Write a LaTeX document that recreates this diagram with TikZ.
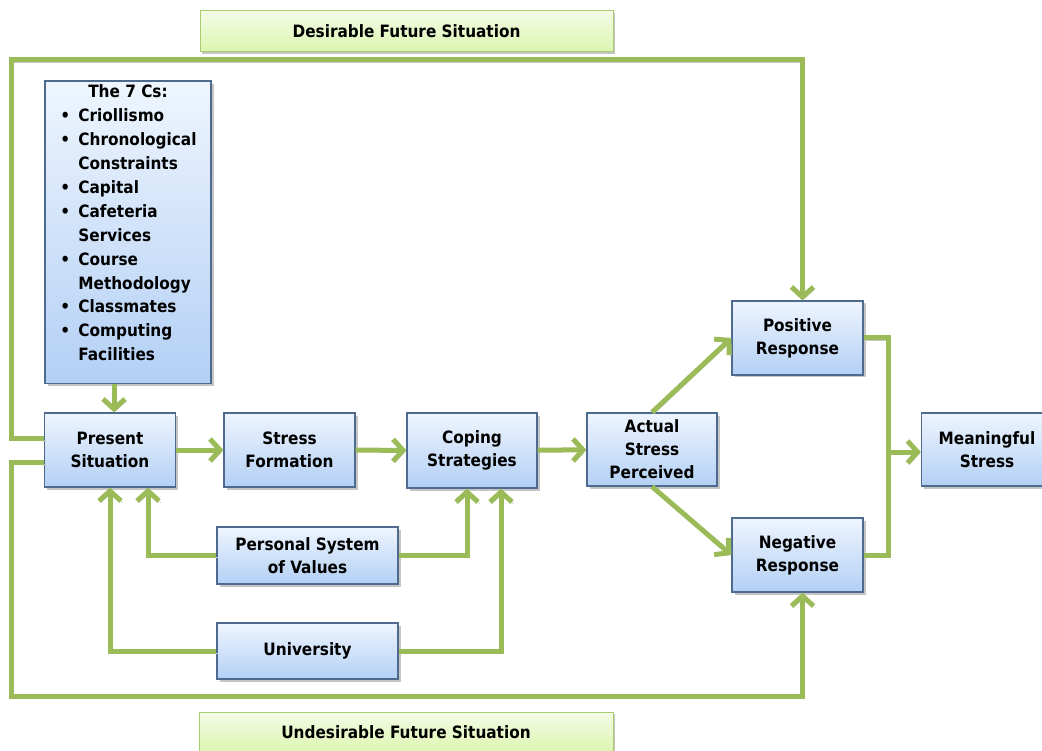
\documentclass[tikz,border=0pt]{standalone}
\usepackage{fontspec}
\setmainfont{DejaVu Sans Condensed}
\usetikzlibrary{arrows.meta,shadows}
\definecolor{lgreen}{HTML}{9BBB59}
\definecolor{boxtop}{HTML}{EEF5FE}
\definecolor{boxbot}{HTML}{B3D0F5}
\definecolor{boxdraw}{HTML}{4F6A8F}
\definecolor{gtop}{HTML}{F4FCE6}
\definecolor{gbot}{HTML}{DCF5B0}
\definecolor{gdraw}{HTML}{A9CC6E}
\begin{document}
\begin{tikzpicture}[x=1pt,y=-1pt,
  bluebox/.style={draw=boxdraw, line width=1.2pt, top color=boxtop, bottom color=boxbot,
    align=center, inner sep=0pt, font=\fontsize{17}{23}\selectfont\bfseries,
    drop shadow={shadow xshift=2.5pt, shadow yshift=-2.5pt, fill=black!45, opacity=.5}},
  greenbox/.style={draw=gdraw, line width=1pt, top color=gtop, bottom color=gbot,
    align=center, inner sep=0pt, font=\fontsize{17}{23}\selectfont\bfseries,
    drop shadow={shadow xshift=2pt, shadow yshift=-2pt, fill=black!45, opacity=.5}},
  conn/.style={draw=lgreen, line width=5pt,
    preaction={draw=black!22, transform canvas={shift={(1.8pt,-1.8pt)}}}},
  arr/.style={conn, -{Straight Barb[length=10pt,width=22pt]}}
]
\fill[white] (0,0) rectangle (1042,751);
\useasboundingbox (0,0) rectangle (1042,751);

% green boxes
\node[greenbox, minimum width=413pt, minimum height=41pt] (desirable) at (406.5,31.5) {Desirable Future Situation};
\node[greenbox, minimum width=414pt, minimum height=41pt] (undesirable) at (406,732.5) {Undesirable Future Situation};

% blue boxes
\node[bluebox, minimum width=166pt, minimum height=299pt, font=\fontsize{17}{23.9}\selectfont\bfseries] (sevenc) at (128,232.5)
 {\begin{tabular}{@{}l@{}l@{}}
  \multicolumn{2}{c}{The 7 Cs:}\\
  \makebox[19pt][l]{\hspace{1pt}•} & Criollismo\\
  \makebox[19pt][l]{\hspace{1pt}•} & Chronological\\
   & Constraints\\
  \makebox[19pt][l]{\hspace{1pt}•} & Capital\\
  \makebox[19pt][l]{\hspace{1pt}•} & Cafeteria\\
   & Services\\
  \makebox[19pt][l]{\hspace{1pt}•} & Course\\
   & Methodology\\
  \makebox[19pt][l]{\hspace{1pt}•} & Classmates\\
  \makebox[19pt][l]{\hspace{1pt}•} & Computing\\
   & Facilities\\[16pt]
  \end{tabular}};
\node[bluebox, minimum width=131pt, minimum height=74pt] (present) at (110,450) {Present\\Situation};
\node[bluebox, minimum width=131pt, minimum height=74pt] (stress) at (289.5,450) {Stress\\Formation};
\node[bluebox, minimum width=130pt, minimum height=75pt] (coping) at (472,450.5) {Coping\\Strategies};
\node[bluebox, minimum width=130pt, minimum height=73pt] (actual) at (652,449.5) {Actual\\Stress\\Perceived};
\node[bluebox, minimum width=131pt, minimum height=74pt] (positive) at (797.5,338) {Positive\\Response};
\node[bluebox, minimum width=131pt, minimum height=74pt] (negative) at (797.5,555) {Negative\\Response};
\node[bluebox, minimum width=131pt, minimum height=73pt] (meaningful) at (987,449.5) {Meaningful\\Stress};
\node[bluebox, minimum width=181pt, minimum height=57pt] (personal) at (307.5,555.5) {Personal System\\of Values};
\node[bluebox, minimum width=181pt, minimum height=56pt] (university) at (307.5,651) {University};

\coordinate (tl) at (11,60);
\coordinate (bl) at (11,696);
\coordinate (jx) at (888,452);

% connectors
\draw[arr] ([xshift=-14pt]sevenc.south) -- ([xshift=4pt]present.north);
\draw[arr] (present) -- (stress);
\draw[arr] (stress) -- (coping);
\draw[arr] (coping) -- (actual);
\draw[arr] (actual.north) -- (positive.west);
\draw[arr] (actual.south) -- (negative.west);
\draw[conn] (positive.east) -- (positive.east -| jx) -- (negative.east -| jx) -- (negative.east);
\draw[arr] (jx) -- (meaningful.west |- jx);
\draw[arr] (personal.west) -| ([xshift=38pt]present.south);
\draw[arr] (personal.east) -| ([xshift=-5pt]coping.south);
\draw[arr] (university.west) -| (present.south);
\draw[arr] (university.east) -| ([xshift=29pt]coping.south);
\draw[arr] ([yshift=12pt]present.west) -| (tl) -| ([xshift=5pt]positive.north);
\draw[arr] ([yshift=-12pt]present.west) -| (bl) -| ([xshift=5pt]negative.south);
\end{tikzpicture}
\end{document}
